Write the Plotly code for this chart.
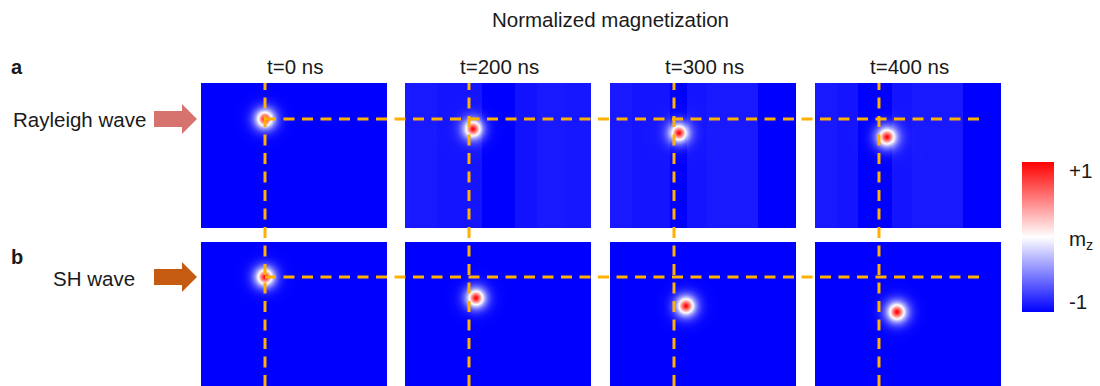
import numpy as np
import plotly.graph_objects as go

W, H = 1100, 386

# ---------------- data ----------------
main_title = "Normalized magnetization"
times = ["t=0 ns", "t=200 ns", "t=300 ns", "t=400 ns"]
row_letters = ["a", "b"]
wave_labels = ["Rayleigh wave", "SH wave"]
wave_colors = ["#D6736E", "#C55A11"]

# skyrmion centres (panel pixel units) per row / time
sk_x = [[64, 68, 69, 72], [64, 71, 76, 82]]
sk_y = [[36, 46, 50, 54], [35, 56, 64, 70]]
sk_r = [[8.6, 8.4, 8.6, 8.8], [8.6, 8.6, 8.8, 9.0]]

# background m_z bands (vertical stripes of the propagating wave)
band_edges = [
    [[0, 186], [0, 32, 77, 110, 132, 160, 186], [0, 22, 60, 77, 97, 148, 186], [0, 22, 43, 77, 97, 148, 186]],
    [[0, 186], [0, 186], [0, 186], [0, 186]],
]
band_vals = [
    [[-1.0], [-0.9, -0.92, -1.0, -0.93, -0.9, -0.91], [-0.9, -0.92, -1.0, -0.92, -0.9, -1.0],
     [-0.9, -0.92, -1.0, -0.92, -0.9, -1.0]],
    [[-1.0], [-1.0], [-1.0], [-1.0]],
]

# dashed guide lines (panel pixel units)
guide_x = 64
guide_y = [36, 35]
guide_end = 168

colorbar_labels = ["+1", "m<sub>z</sub>", "-1"]

# ---------------- layout geometry (pixels) ----------------
panel_left = [201, 405, 610, 815]
panel_w = 186
row_top = [83, 242]
panel_h = [145, 144]

def px(x):
    return x / W

def py(y):
    return 1 - y / H

FONT = "Arial, Liberation Sans, sans-serif"
TXT = "#1a1a1a"

colorscale = [[0.0, "rgb(0,0,255)"], [0.5, "rgb(255,255,255)"], [1.0, "rgb(255,0,0)"]]

fig = go.Figure()
layout = {}
xs = np.arange(panel_w) + 0.5

k = 0
for r in range(2):
    ys = np.arange(panel_h[r]) + 0.5
    XX, YY = np.meshgrid(xs, ys)
    for c in range(4):
        k += 1
        edges = band_edges[r][c]
        vals = band_vals[r][c]
        base = np.full_like(XX, -1.0)
        for i, v in enumerate(vals):
            m = (XX >= edges[i]) & (XX < edges[i + 1])
            base[m] = v
        rr = np.hypot(XX - sk_x[r][c], YY - sk_y[r][c])
        f = np.exp(-(rr / sk_r[r][c]) ** 1.5)
        z = base * (1 - f) + f
        xa = "x" if k == 1 else f"x{k}"
        ya = "y" if k == 1 else f"y{k}"
        tr = go.Heatmap(
            x=xs, y=ys, z=np.round(z, 4), xaxis=xa, yaxis=ya,
            zmin=-1, zmax=1, colorscale=colorscale,
            showscale=(k == 1), hoverinfo="skip",
        )
        if k == 1:
            tr.colorbar = dict(
                x=px(1022), xanchor="left", xpad=0,
                y=py(162), yanchor="top", ypad=0,
                len=150, lenmode="pixels", thickness=32,
                outlinewidth=0, showticklabels=False, ticks="",
            )
        fig.add_trace(tr)
        sfx = "" if k == 1 else str(k)
        layout["xaxis" + sfx] = dict(
            domain=[px(panel_left[c]), px(panel_left[c] + panel_w)],
            range=[0, panel_w], visible=False, anchor="y" + sfx, fixedrange=True,
        )
        layout["yaxis" + sfx] = dict(
            domain=[py(row_top[r] + panel_h[r]), py(row_top[r])],
            range=[panel_h[r], 0], visible=False, anchor="x" + sfx, fixedrange=True,
        )

fig.update_layout(**layout)

shapes = []
DASH = "11px,7.5px"
LC = "#FFB000"
LW = 3
# vertical guides through initial skyrmion position
for c in range(4):
    xa = "x" if c == 0 else f"x{c + 1}"
    shapes.append(dict(type="line", xref=xa, yref="paper", x0=guide_x, x1=guide_x,
                       y0=0, y1=py(row_top[0]), line=dict(color=LC, width=LW, dash=DASH)))
# horizontal guides
for r in range(2):
    ya = "y" if r == 0 else "y5"
    shapes.append(dict(type="line", xref="paper", yref=ya,
                       x0=px(panel_left[0] + guide_x), x1=px(panel_left[3] + guide_end),
                       y0=guide_y[r], y1=guide_y[r], line=dict(color=LC, width=LW, dash=DASH)))

# arrows
arrow_cy = [119, 277]
for r in range(2):
    cy = arrow_cy[r]
    x0, xb, xt = 154, 182, 197
    bh, hh = 8, 15
    pts = [(x0, cy - bh), (xb, cy - bh), (xb, cy - hh), (xt, cy), (xb, cy + hh), (xb, cy + bh), (x0, cy + bh)]
    path = "M " + " L ".join(f"{px(a):.5f},{py(b):.5f}" for a, b in pts) + " Z"
    shapes.append(dict(type="path", xref="paper", yref="paper", path=path,
                       fillcolor=wave_colors[r], line=dict(width=0)))

ann = []
def add_text(text, x, y, size=20.5, xanchor="center", bold=False):
    ann.append(dict(text=f"<b>{text}</b>" if bold else text, x=px(x), y=py(y), xref="paper", yref="paper",
                    xanchor=xanchor, yanchor="middle", showarrow=False,
                    font=dict(family=FONT, size=size, color=TXT)))

add_text(main_title, 610, 20)
for c in range(4):
    add_text(times[c], panel_left[c] + panel_w / 2 + 1, 67)
add_text(row_letters[0], 17, 67, size=20, bold=True)
add_text(row_letters[1], 17, 257, size=20, bold=True)
add_text(wave_labels[0], 79, 119)
add_text(wave_labels[1], 94, 278)
add_text(colorbar_labels[0], 1067, 170, xanchor="left")
add_text(colorbar_labels[1], 1067, 240, xanchor="left")
add_text(colorbar_labels[2], 1067, 301, xanchor="left")

fig.update_layout(
    width=W, height=H, margin=dict(l=0, r=0, t=0, b=0),
    paper_bgcolor="white", plot_bgcolor="white",
    shapes=shapes, annotations=ann, showlegend=False,
)

fig.write_html("out.html")
